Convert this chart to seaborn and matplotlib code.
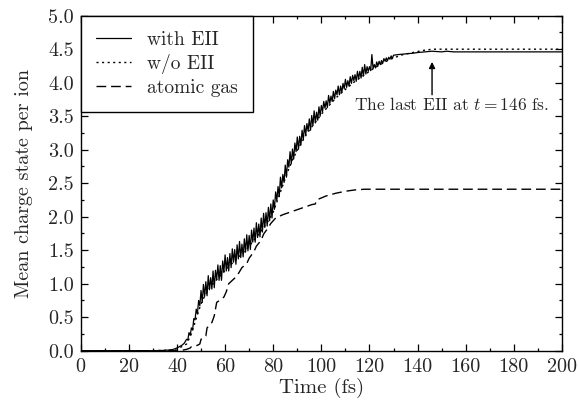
import numpy as np
import pandas as pd
import matplotlib
matplotlib.use("Agg")
import matplotlib.pyplot as plt
import seaborn as sns
from matplotlib.ticker import MultipleLocator

# ---------------- data ----------------
# with EII (noisy curve)
t_eii_early = [0, 20, 30, 35, 38, 40, 42, 43]
v_eii_early = [0.0, 0.0, 0.0, 0.005, 0.015, 0.04, 0.08, 0.11]
t_eii_noisy = list(np.arange(44.0, 130.5, 0.5))
v_eii_noisy = [
    0.17, 0.16, 0.27, 0.23, 0.34, 0.31, 0.48, 0.46, 0.62, 0.55,
    0.75, 0.67, 0.90, 0.72, 0.99, 0.81, 1.03, 0.82, 1.12, 0.91,
    1.09, 0.92, 1.19, 0.94, 1.20, 1.06, 1.28, 1.05, 1.27, 1.05,
    1.34, 1.17, 1.43, 1.19, 1.39, 1.19, 1.45, 1.24, 1.52, 1.32,
    1.51, 1.29, 1.58, 1.37, 1.63, 1.39, 1.59, 1.40, 1.67, 1.47,
    1.73, 1.49, 1.72, 1.51, 1.80, 1.62, 1.83, 1.62, 1.91, 1.69,
    1.89, 1.70, 1.98, 1.77, 2.05, 1.84, 2.06, 1.86, 2.14, 1.94,
    2.19, 1.98, 2.25, 2.11, 2.37, 2.24, 2.45, 2.30, 2.59, 2.43,
    2.63, 2.51, 2.77, 2.59, 2.85, 2.74, 2.97, 2.79, 3.01, 2.86,
    3.10, 2.97, 3.19, 3.01, 3.20, 3.07, 3.29, 3.15, 3.36, 3.22,
    3.39, 3.28, 3.46, 3.29, 3.51, 3.36, 3.58, 3.40, 3.56, 3.44,
    3.64, 3.50, 3.66, 3.57, 3.72, 3.62, 3.73, 3.63, 3.81, 3.69,
    3.80, 3.72, 3.87, 3.76, 3.89, 3.82, 3.95, 3.82, 3.95, 3.85,
    3.99, 3.91, 4.05, 3.93, 4.03, 3.95, 4.09, 3.99, 4.11, 4.03,
    4.12, 4.02, 4.17, 4.06, 4.17, 4.07, 4.23, 4.10, 4.27, 4.13,
    4.24, 4.17, 4.24, 4.18, 4.42, 4.21, 4.27, 4.22, 4.31, 4.25,
    4.32, 4.27, 4.33, 4.29, 4.36, 4.32, 4.37, 4.33, 4.38, 4.35,
    4.40, 4.36, 4.41,
]
t_eii_late = [132, 135, 138, 140, 143, 146, 150, 152, 155, 160, 200]
v_eii_late = [4.42, 4.43, 4.44, 4.45, 4.46, 4.47, 4.46, 4.47, 4.46, 4.46, 4.46]

# w/o EII
t_noeii = [0, 30, 38, 40, 42, 44, 46, 48, 50, 52, 54, 56, 58, 60, 62, 64, 66, 68,
           70, 72, 74, 76, 78, 80, 82, 84, 86, 88, 90, 92, 94, 96, 98, 100, 102,
           104, 106, 108, 110, 112, 114, 116, 118, 120, 122, 124, 126, 128, 130,
           134, 138, 142, 146, 150, 200]
v_noeii = [0.0, 0.0, 0.01, 0.03, 0.06, 0.10, 0.25, 0.48, 0.70, 0.85, 0.96, 1.04,
           1.12, 1.20, 1.27, 1.34, 1.41, 1.48, 1.56, 1.65, 1.74, 1.84, 1.94, 2.07,
           2.27, 2.47, 2.67, 2.85, 2.99, 3.12, 3.24, 3.34, 3.43, 3.53, 3.61, 3.69,
           3.77, 3.84, 3.90, 3.96, 4.02, 4.07, 4.12, 4.17, 4.22, 4.26, 4.30, 4.34,
           4.37, 4.42, 4.45, 4.48, 4.50, 4.50, 4.50]

# atomic gas
t_atomic = [0, 40, 42, 44, 45.5, 46, 48.5, 49.5, 50, 52, 52.5, 54.5, 55.5, 56.5,
            59.5, 60.5, 61.5, 64.5, 65.5, 67, 69, 70, 72, 73, 75, 76, 78, 79, 81,
            84, 88, 92, 96, 97.5, 98, 102, 106, 110, 114, 118, 120, 200]
v_atomic = [0.0, 0.0, 0.005, 0.02, 0.04, 0.06, 0.08, 0.10, 0.17, 0.22, 0.34, 0.42,
            0.52, 0.72, 0.80, 0.88, 1.00, 1.10, 1.15, 1.24, 1.30, 1.38, 1.48, 1.56,
            1.65, 1.74, 1.84, 1.90, 1.98, 2.03, 2.08, 2.13, 2.18, 2.19, 2.25, 2.31,
            2.35, 2.38, 2.40, 2.41, 2.41, 2.41]

x_ticks = [0, 20, 40, 60, 80, 100, 120, 140, 160, 180, 200]
y_ticks = [0.0, 0.5, 1.0, 1.5, 2.0, 2.5, 3.0, 3.5, 4.0, 4.5, 5.0]
labels = ["with EII", "w/o EII", "atomic gas"]
last_eii_t = 146

# ---------------- style ----------------
sns.set_style("ticks")
plt.rcParams["font.family"] = ["cmr10", "DejaVu Serif"]
plt.rcParams["mathtext.fontset"] = "cm"
plt.rcParams["axes.formatter.use_mathtext"] = True
plt.rcParams["axes.unicode_minus"] = False

fig = plt.figure(figsize=(5.78, 4.08), dpi=100)
ax = fig.add_axes([80.7 / 578, 1 - 350.7 / 408, (562 - 80.7) / 578, (350.7 - 15.7) / 408])

t_eii = t_eii_early + t_eii_noisy + t_eii_late
v_eii = v_eii_early + v_eii_noisy + v_eii_late

sns.lineplot(x=t_eii, y=v_eii, ax=ax, color="black", lw=0.9, sort=False,
             estimator=None, label=labels[0])
sns.lineplot(x=t_noeii, y=v_noeii, ax=ax, color="black", lw=1.0, sort=False,
             estimator=None, label=labels[1], linestyle=(0, (1.5, 2.5)))
sns.lineplot(x=t_atomic, y=v_atomic, ax=ax, color="black", lw=1.0, sort=False,
             estimator=None, label=labels[2], linestyle=(0, (7, 3.5)))

ax.set_xlim(0, 200)
ax.set_ylim(0, 5.0)
ax.set_xticks(x_ticks)
ax.set_yticks(y_ticks)
ax.set_xticklabels([str(v) for v in x_ticks])
ax.set_yticklabels([f"{v:.1f}" for v in y_ticks])
ax.xaxis.set_minor_locator(MultipleLocator(10))
ax.yaxis.set_minor_locator(MultipleLocator(0.25))
ax.tick_params(which="both", direction="in", top=True, right=True, labelsize=14.5,
               width=0.9, color="black")
ax.tick_params(which="major", length=5, pad=5)
ax.tick_params(which="minor", length=2.5)
for s in ax.spines.values():
    s.set_linewidth(1.0)
    s.set_color("black")

ax.set_xlabel("Time (fs)", fontsize=15, labelpad=2)
ax.set_ylabel("Mean charge state per ion", fontsize=14.5, labelpad=11)

leg = ax.legend(loc="upper left", borderaxespad=0, fancybox=False, edgecolor="black",
                framealpha=1, fontsize=14, handlelength=1.8, handletextpad=0.8,
                labelspacing=0.25, borderpad=0.8)
leg.get_frame().set_linewidth(1.0)

ax.annotate("", xy=(last_eii_t, 4.31), xytext=(last_eii_t, 3.82),
            arrowprops=dict(arrowstyle="-|>", color="black", lw=1.0,
                            mutation_scale=9, shrinkA=0, shrinkB=0))
ax.text(154, 3.67, "The last EII at $t = 146$ fs.", ha="center", va="center",
        fontsize=12.5)

fig.savefig("out.png", dpi=100)
